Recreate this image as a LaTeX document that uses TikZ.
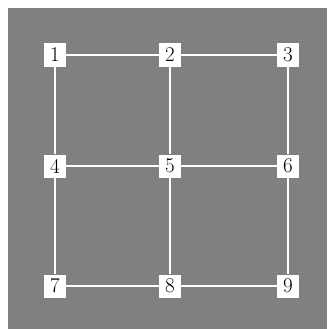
\documentclass[tikz,border=0pt]{standalone}

\tikzset{
  cell/.style={draw=none, fill=white, minimum width=22pt, minimum height=23pt, inner sep=0pt,
    font=\fontsize{21}{24}\selectfont},
  wire/.style={draw=white, line width=1.2pt},
}

\begin{document}
\begin{tikzpicture}[x=1pt, y=-1pt, line cap=butt, line join=miter]

  %% ════ 底色（左、上各留 8 的白边）════
  \fill[white] (0,0) rectangle (327,329);
  \fill[gray] (8,8) rectangle (327,329);

  %% ════ 九个格点（三列 x = 55 / 170 / 288，三行 y = 55 / 166 / 286）════
  \node[cell] (n1) at ( 55,  55) {1};
  \node[cell] (n2) at (170,  55) {2};
  \node[cell] (n3) at (288,  55) {3};
  \node[cell] (n4) at ( 55, 166) {4};
  \node[cell] (n5) at (170, 166) {5};
  \node[cell] (n6) at (288, 166) {6};
  \node[cell] (n7) at ( 55, 286) {7};
  \node[cell] (n8) at (170, 286) {8};
  \node[cell] (n9) at (288, 286) {9};

  %% ════ 连线（横三条、竖三条）════
  \draw[wire] (n1) -- (n2) -- (n3);
  \draw[wire] (n4) -- (n5) -- (n6);
  \draw[wire] (n7) -- (n8) -- (n9);
  \draw[wire] (n1) -- (n4) -- (n7);
  \draw[wire] (n2) -- (n5) -- (n8);
  \draw[wire] (n3) -- (n6) -- (n9);

  \pgfresetboundingbox
  \path[use as bounding box] (0,0) rectangle (327,329);
\end{tikzpicture}
\end{document}
